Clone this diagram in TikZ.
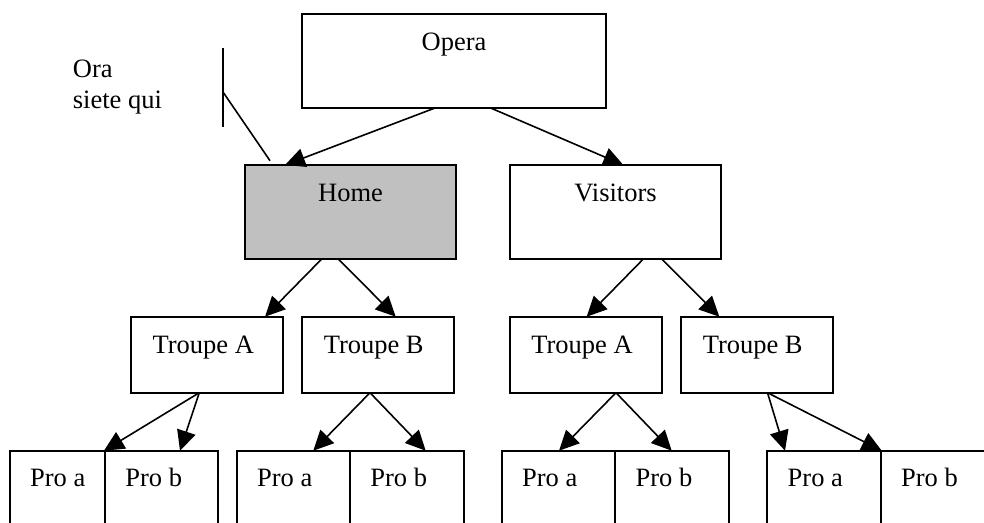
\documentclass[tikz,border=0pt]{standalone}
\usepackage{fontspec}
\setmainfont{Liberation Serif}
\usetikzlibrary{arrows.meta}
\definecolor{homegray}{HTML}{C0C0C0}
\tikzset{
  box/.style={draw, line width=1.9pt, rectangle, inner sep=0pt, outer sep=0pt,
              anchor=north west, fill=white},
  bigbox/.style={box, minimum height=94pt},
  troupebox/.style={box, minimum width=152pt, minimum height=76pt},
  probox/.style={box, minimum height=110pt},
  lbl/.style={anchor=base, inner sep=0pt, font=\fontsize{26.5}{30}\selectfont},
  link/.style={line width=1.6pt, -{Triangle[length=20pt,width=19pt]}},
  callout/.style={line width=1.6pt},
}
\begin{document}
\begin{tikzpicture}[x=1pt,y=-1pt]
\clip (0,0) rectangle (984,522);
\fill[white] (0,0) rectangle (984,522);

% top levels
\node[bigbox, minimum width=304pt] (opera) at (302,14) {};
\node[bigbox, minimum width=211pt, fill=homegray] (home) at (245,165) {};
\node[bigbox, minimum width=211pt] (visitors) at (510,165) {};
\node[lbl] (opera-t) at ([yshift=-36pt]opera.north) {Opera};
\node[lbl] (home-t) at ([yshift=-36pt]home.north) {Home};
\node[lbl] (visitors-t) at ([yshift=-36pt]visitors.north) {Visitors};

% troupes
\node[troupebox] (ta1) at (131.3,316.7) {};
\node[troupebox] (tb1) at (301.7,316.7) {};
\node[troupebox] (ta2) at (510,316.7) {};
\node[troupebox] (tb2) at (680.7,316.7) {};
\foreach \n/\t in {ta1/Troupe A, tb1/Troupe B, ta2/Troupe A, tb2/Troupe B}
  \node[lbl] (\n-t) at ([xshift=72pt, yshift=-36.5pt]\n.north west) {\t};

% professors
\node[probox, minimum width=95.3pt]  (pa1) at (9.7,450.7) {};
\node[probox, minimum width=113.3pt] (pb1) at (105,450.7) {};
\node[probox, minimum width=113.3pt] (pa2) at (236.7,450.7) {};
\node[probox, minimum width=114.3pt] (pb2) at (350,450.7) {};
\node[probox, minimum width=113.6pt] (pa3) at (501.7,450.7) {};
\node[probox, minimum width=113.7pt] (pb3) at (615.3,450.7) {};
\node[probox, minimum width=113.4pt] (pa4) at (767.3,450.7) {};
\node[probox, minimum width=130pt]   (pb4) at (880.7,450.7) {};
\foreach \n in {pa1,pa2,pa3,pa4}
  \node[lbl] (\n-t) at ([xshift=48pt, yshift=-35.5pt]\n.north west) {Pro a};
\foreach \n in {pb1,pb2,pb3,pb4}
  \node[lbl] (\n-t) at ([xshift=48.7pt, yshift=-35.5pt]\n.north west) {Pro b};

% "you are here" callout
\node[lbl, anchor=base west] (ora) at (72.7,77.7) {Ora};
\node[lbl, anchor=base west] (qui) at (72.7,108) {siete qui};
\coordinate (cbar-top) at (223,48);
\coordinate (cbar-bot) at (223,127);
\coordinate (cbar-mid) at (223,92);
\coordinate (cpoint) at ([xshift=25pt, yshift=4.3pt]home.north west);
\draw[callout] (cbar-top) -- (cbar-bot);
\draw[callout] (cbar-mid) -- (cpoint);

% connectors
\draw[link] ([xshift=-19pt]opera.south) -- ([xshift=40pt]home.north west);
\draw[link] ([xshift=36.7pt]opera.south) -- ([xshift=113.3pt]visitors.north west);

\draw[link] ([xshift=-28.8pt]home.south) -- ([xshift=133.7pt]ta1.north west);
\draw[link] ([xshift=-12.2pt]home.south) -- ([xshift=94pt]tb1.north west);
\draw[link] ([xshift=27.8pt]visitors.south) -- ([xshift=76.7pt]ta2.north west);
\draw[link] ([xshift=46.2pt]visitors.south) -- ([xshift=38.6pt]tb2.north west);

\draw[link] ([xshift=-8pt]ta1.south) -- ([xshift=94.3pt]pa1.north west);
\draw[link] ([xshift=-8pt]ta1.south) -- ([xshift=75pt]pb1.north west);
\draw[link] ([xshift=-7.7pt]tb1.south) -- ([xshift=76.6pt]pa2.north west);
\draw[link] ([xshift=-7.7pt]tb1.south) -- ([xshift=75.7pt]pb2.north west);
\draw[link] ([xshift=30pt]ta2.south) -- ([xshift=57.3pt]pa3.north west);
\draw[link] ([xshift=30pt]ta2.south) -- ([xshift=56.4pt]pb3.north west);
\draw[link] ([xshift=10.8pt]tb2.south) -- ([xshift=17.7pt]pa4.north west);
\draw[link] ([xshift=10.8pt]tb2.south) -- ([xshift=1pt]pb4.north west);
\end{tikzpicture}
\end{document}
